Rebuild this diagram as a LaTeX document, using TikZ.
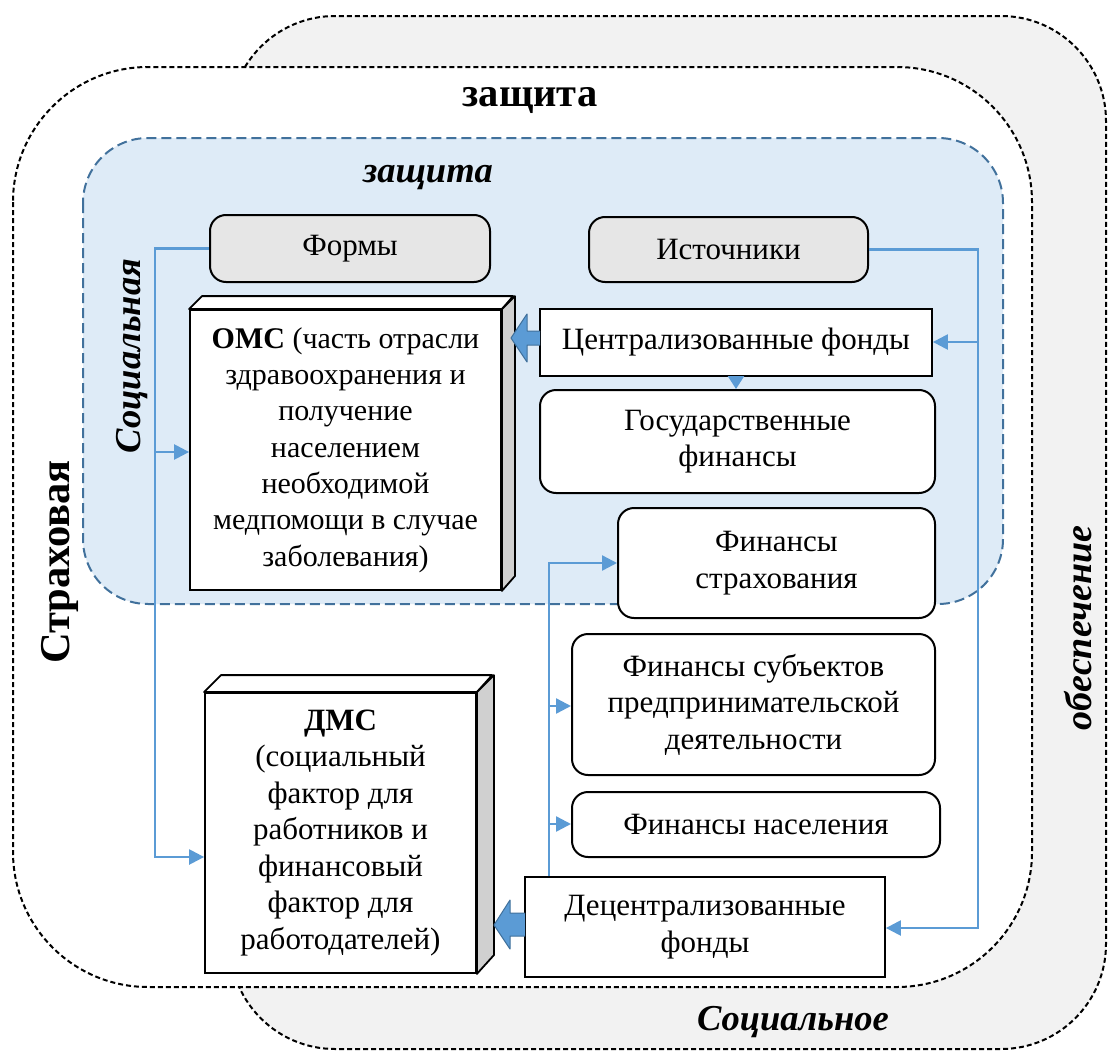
\documentclass[tikz,border=0pt]{standalone}
\usepackage{fontspec}
\setmainfont{Liberation Serif}
\usetikzlibrary{arrows.meta}
\definecolor{lblue}{HTML}{5B9BD5}
\definecolor{dblue}{HTML}{41719C}
\definecolor{pale}{HTML}{DEEBF7}
\definecolor{outgray}{HTML}{F2F2F2}
\definecolor{boxgray}{HTML}{E6E6E6}
\definecolor{sidegray}{HTML}{D0D0D0}
\begin{document}
\begin{tikzpicture}[x=1pt,y=-1pt,
  txt/.style={font=\fontsize{31}{36.5}\selectfont, align=center},
  rbox/.style={draw=black, line width=2pt, rounded corners=16pt, fill=white, txt, inner sep=0pt},
  sbox/.style={draw=black, line width=1.8pt, fill=white, txt, inner sep=0pt},
  gbox/.style={rbox, fill=boxgray},
  face/.style={draw=black, line width=1.8pt, line join=round},
  conn/.style={draw=lblue, line width=2.4pt},
  tip/.style={-{Triangle[length=15pt,width=15pt]}},
  big/.style={fill=lblue, draw=dblue, line width=1pt, line join=round},
  blackdash/.style={dash pattern=on 5pt off 3pt, line width=2pt},
  title/.style={font=\fontsize{40.5}{48}\selectfont\bfseries},
  ititle/.style={font=\fontsize{36.5}{42}\selectfont\bfseries\itshape},
]
\useasboundingbox (0,0) rectangle (1109,1052);
\fill[white] (0,0) rectangle (1109,1052);
% backgrounds
\draw[blackdash, fill=outgray, rounded corners=105pt] (230,16) rectangle (1106,1049);
\draw[blackdash, fill=white, rounded corners=135pt] (13,67) rectangle (1032,987);
\draw[draw=dblue, fill=pale, line width=2pt, dash pattern=on 10pt off 5pt, rounded corners=65pt] (83,138) rectangle (1003,604);

% labels
\node[title] (t1) at (530,100) {защита};
\node[ititle] (t2) at (428,178) {защита};
\node[ititle, rotate=90] (t3) at (132,356) {Социальная};
\node[title, font=\fontsize{42.5}{48}\selectfont\bfseries, rotate=90] (t4) at (60,562) {Страховая};
\node[ititle, font=\fontsize{38}{44}\selectfont\bfseries\itshape, rotate=90] (t5) at (1078,628) {обеспечение};
\node[ititle] (t6) at (793,1022) {Социальное};

% boxes
\node[gbox, minimum width=280, minimum height=67] (forms) at (350,248.5) {Формы};
\node[gbox, minimum width=279, minimum height=65] (src) at (728.5,249.5) {Источники};
\node[sbox, minimum width=392, minimum height=67] (cf) at (736,342.5) {Централизованные фонды};
\node[rbox, minimum width=395, minimum height=103] (gf) at (737.5,441.5) {Государственные\\финансы};
\node[rbox, minimum width=317, minimum height=110] (fs) at (776.5,563) {Финансы\\страхования};
\node[rbox, minimum width=363, minimum height=141] (fe) at (753.5,704.5) {Финансы субъектов\\предпринимательской\\деятельности};
\node[rbox, minimum width=368, minimum height=65] (fp) at (756,824.5) {Финансы населения};
\node[sbox, minimum width=360, minimum height=100] (df) at (705,927) {Децентрализованные\\фонды};

% 3D boxes
\node[sbox, font=\fontsize{30}{36.3}\selectfont, minimum width=311, minimum height=280] (oms) at (345.5,450) {\textbf{ОМС} (часть отрасли\\здравоохранения и\\получение\\населением\\необходимой\\медпомощи в случае\\заболевания)};
\draw[face, fill=white] (oms.north west) -- ++(13,-13) -- ++(311,0) -- (oms.north east) -- cycle;
\draw[face, fill=sidegray] (oms.north east) -- ++(13,-13) -- ++(0,280) -- (oms.south east) -- cycle;

\node[sbox, minimum width=271, minimum height=280] (dms) at (340.5,833) {\textbf{ДМС}\\(социальный\\фактор для\\работников и\\финансовый\\фактор для\\работодателей)};
\draw[face, fill=white] (dms.north west) -- ++(17,-17) -- ++(271,0) -- (dms.north east) -- cycle;
\draw[face, fill=sidegray] (dms.north east) -- ++(17,-17) -- ++(0,280) -- (dms.south east) -- cycle;

% block arrows
\draw[big] (540,331) -- (527,331) -- (527,314) -- (511,338) -- (527,362) -- (527,345) -- (540,345);
\draw[big] (525,913) -- (510,913) -- (510,900) -- (494,925) -- (510,949) -- (510,936) -- (525,936);

% connectors
\coordinate (jL) at (155,857);
\coordinate (jO) at (155,452);
\draw[conn, tip] (forms.west) -| (jL) -- (jL -| dms.west);
\draw[conn, tip] (jO) -- (jO -| oms.west);
\coordinate (jR) at (978,928);
\coordinate (jC) at (978,342);
\draw[conn, tip] (src.east) -| (jR) -- (jR -| df.east);
\draw[conn, tip] (jC) -- (jC -| cf.east);
\coordinate (jT) at (549,563);
\coordinate (jE) at (549,706);
\coordinate (jP) at (549,824);
\draw[conn, tip] (jT |- df.north) -- (jT) -- (fs.west);
\draw[conn, tip] (jE) -- (jE -| fe.west);
\draw[conn, tip] (jP) -- (jP -| fp.west);
\draw[conn, -{Triangle[length=13pt,width=16pt]}] (cf.south) -- (cf.south |- gf.north);
\end{tikzpicture}
\end{document}
